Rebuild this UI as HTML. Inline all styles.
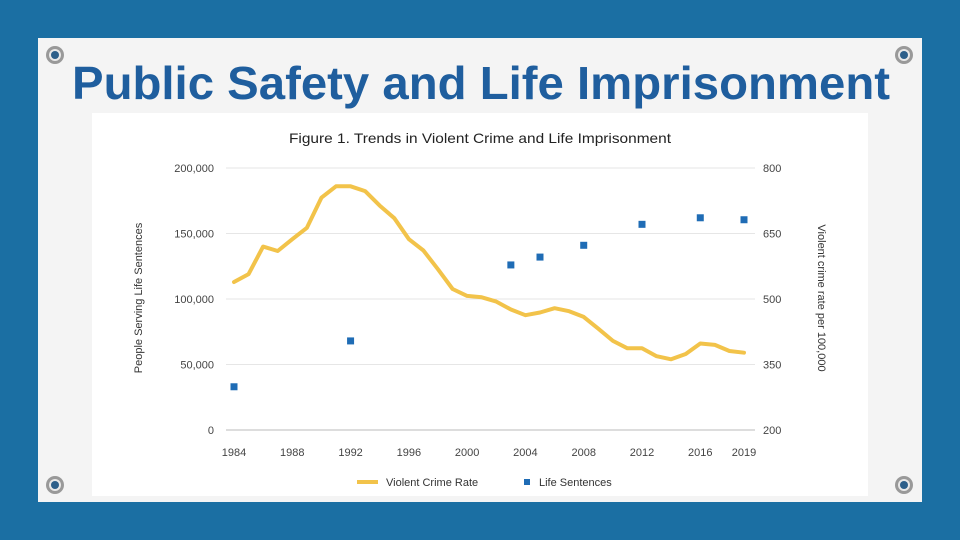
<!DOCTYPE html>
<html><head><meta charset="utf-8"><style>
html,body{margin:0;padding:0;background:#1b6fa3;}
svg{display:block;font-family:"Liberation Sans",sans-serif;}
</style></head><body>
<svg width="960" height="540" viewBox="0 0 960 540">
<rect x="0" y="0" width="960" height="540" fill="#1b6fa3"/>
<rect x="38" y="38" width="884" height="464" fill="#f4f4f4"/>
<g>
<g><circle cx="55" cy="55" r="9" fill="#999"/><circle cx="55" cy="55" r="6" fill="#e8e8e8"/><circle cx="55" cy="55" r="4" fill="#2c5f8a"/></g>
<g><circle cx="904" cy="55" r="9" fill="#999"/><circle cx="904" cy="55" r="6" fill="#e8e8e8"/><circle cx="904" cy="55" r="4" fill="#2c5f8a"/></g>
<g><circle cx="55" cy="485" r="9" fill="#999"/><circle cx="55" cy="485" r="6" fill="#e8e8e8"/><circle cx="55" cy="485" r="4" fill="#2c5f8a"/></g>
<g><circle cx="904" cy="485" r="9" fill="#999"/><circle cx="904" cy="485" r="6" fill="#e8e8e8"/><circle cx="904" cy="485" r="4" fill="#2c5f8a"/></g>
</g>
<text x="72" y="99" font-size="46" font-weight="bold" fill="#1f5e9e" textLength="818" lengthAdjust="spacingAndGlyphs">Public Safety and Life Imprisonment</text>
<rect x="92" y="113" width="776" height="383" fill="#ffffff"/>
<text x="480" y="143" font-size="14" fill="#222" text-anchor="middle" textLength="382" lengthAdjust="spacingAndGlyphs">Figure 1. Trends in Violent Crime and Life Imprisonment</text>
<g id="grid"></g>
<g id="marks"></g>
<text transform="translate(142,298) rotate(-90)" font-size="11" fill="#333" text-anchor="middle">People Serving Life Sentences</text>
<text transform="translate(818,298) rotate(90)" font-size="11" fill="#333" text-anchor="middle">Violent crime rate per 100,000</text>
<g>
<line x1="357" y1="482" x2="378" y2="482" stroke="#f2c34a" stroke-width="4"/>
<text x="386" y="486" font-size="11" fill="#333">Violent Crime Rate</text>
<rect x="524" y="479" width="6" height="6" fill="#1f6cb5"/>
<text x="539" y="486" font-size="11" fill="#333">Life Sentences</text>
</g>
</svg>
<script>
const crimeYears=[1984,1985,1986,1987,1988,1989,1990,1991,1992,1993,1994,1995,1996,1997,1998,1999,2000,2001,2002,2003,2004,2005,2006,2007,2008,2009,2010,2011,2012,2013,2014,2015,2016,2017,2018,2019];
const crimeRates=[539,557,620,610,637,663,732,758,758,747,714,685,637,611,568,523,507,504,494,476,463,469,479,472,459,432,404,387,387,369,362,374,398,395,381,377];
const lifeYears=[1984,1992,2003,2005,2008,2012,2016,2019];
const lifeCounts=[33000,68000,126000,132000,141000,157000,162000,160500];
const xTicks=[1984,1988,1992,1996,2000,2004,2008,2012,2016,2019];
const leftTicks=[0,50000,100000,150000,200000];
const rightTicks=[200,350,500,650,800];
const NS='http://www.w3.org/2000/svg';
const x=y=>234+(y-1984)*(510/35);
const yL=v=>430-v/200000*262;
const yR=v=>430-(v-200)/600*262;
const grid=document.getElementById('grid'),marks=document.getElementById('marks');
function mk(t,a,p){const e=document.createElementNS(NS,t);for(const k in a)e.setAttribute(k,a[k]);p.appendChild(e);return e;}
leftTicks.forEach((v,i)=>{
const l=mk('line',{x1:226,x2:755,y1:yL(v),y2:yL(v),stroke:i==0?'#bbb':'#e6e6e6','stroke-width':1},grid);


const t=mk('text',{x:214,y:yL(v)+4,'font-size':11,fill:'#444','text-anchor':'end'},grid);t.textContent=v.toLocaleString('en-US');


});
rightTicks.forEach(v=>{
const t=mk('text',{x:763,y:yR(v)+4,'font-size':11,fill:'#444'},grid);t.textContent=v;


});
xTicks.forEach(v=>{
const t=mk('text',{x:x(v),y:456,'font-size':11,fill:'#444','text-anchor':'middle'},grid);t.textContent=v;


});
const pts=crimeYears.map((yr,i)=>x(yr).toFixed(1)+','+yR(crimeRates[i]).toFixed(1)).join(' ');
const pl=mk('polyline',{points:pts,fill:'none',stroke:'#f2c34a','stroke-width':4,'stroke-linejoin':'round','stroke-linecap':'round'},marks);


lifeYears.forEach((yr,i)=>{
const r=mk('rect',{x:x(yr)-3.5,y:yL(lifeCounts[i])-3.5,width:7,height:7,fill:'#1f6cb5'},marks);


});
</script>
</body></html>
